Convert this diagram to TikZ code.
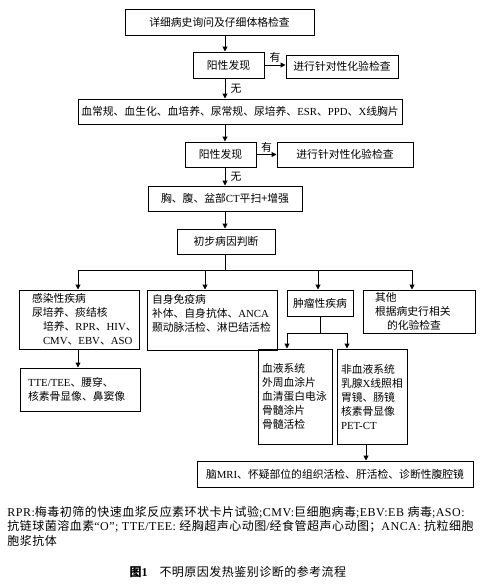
\documentclass[tikz,border=0pt]{standalone}
\usepackage{fontspec}
\setmainfont{Noto Sans CJK SC}
\newfontfamily\latinfont{Liberation Serif}
\newfontfamily\notefont[LetterSpace=4]{Noto Sans CJK SC}
\newfontfamily\notelatin[LetterSpace=4]{Liberation Serif}
\newcommand{\eng}[1]{{\latinfont #1}}
\newcommand{\neng}[1]{{\notelatin #1}}
\usetikzlibrary{arrows.meta}

\begin{document}
\begin{tikzpicture}[x=1pt, y=-1pt, line width=1pt,
	box/.style={draw, rectangle, inner sep=0pt, font=\fontsize{10.8pt}{14pt}\selectfont},
	lbox/.style={box, align=left, text width=#1},
	tag/.style={inner sep=2pt, font=\fontsize{10.8pt}{14pt}\selectfont},
	arr/.style={-{Triangle[length=5pt,width=5pt]}},
	note/.style={anchor=base west, inner sep=0pt, font=\fontsize{12pt}{14pt}\notefont}]
	\useasboundingbox (0,0) rectangle (484,587);
	\coordinate (spine) at (225,0);
	\node[box, minimum width=189pt, minimum height=26pt] (hist) at (219.5,22) {详细病史询问及仔细体格检查};
	\node[box, minimum width=71pt, minimum height=26pt] (pos1) at (228.5,65) {阳性发现};
	\node[box, minimum width=112pt, minimum height=23pt] (test1) at (342,66.5) {进行针对性化验检查};
	\node[box, minimum width=324pt, minimum height=25pt] (routine) at (240,111.5) {血常规、血生化、血培养、尿常规、尿培养、\eng{ESR}、\eng{PPD}、\eng{X}线胸片};
	\node[box, minimum width=71pt, minimum height=25pt] (pos2) at (220.5,154.5) {阳性发现};
	\node[box, minimum width=136pt, minimum height=25pt] (test2) at (345,154.5) {进行针对性化验检查};
	\node[box, minimum width=154pt, minimum height=25pt] (ct) at (225,198.5) {胸、腹、盆部\eng{CT}平扫+增强};
	\node[box, minimum width=98pt, minimum height=25pt] (judge) at (226,241.5) {初步病因判断};
	\node[lbox=94pt, minimum width=120pt, minimum height=59pt] (infect) at (79,319.5) {感染性疾病\\尿培养、痰结核\\\hspace*{11pt}培养、\eng{RPR}、\eng{HIV}、\\\hspace*{11pt}\eng{CMV}、\eng{EBV}、\eng{ASO}};
	\node[lbox=120pt, minimum width=130pt, minimum height=60pt] (immune) at (212,320) {自身免疫病\\补体、自身抗体、\eng{ANCA}\\颞动脉活检、淋巴结活检\\\mbox{}};
	\node[box, minimum width=66pt, minimum height=26pt] (tumor) at (320,303) {肿瘤性疾病};
	\node[lbox=88pt, minimum width=112pt, minimum height=43pt] (other) at (419,311.5) {其他\\根据病史行相关\\\hspace*{12pt}的化验检查};
	\node[lbox=66pt, minimum width=74pt, minimum height=95pt] (blood) at (295,396.5) {血液系统\\外周血涂片\\血清蛋白电泳\\骨髓涂片\\骨髓活检};
	\node[lbox=62pt, minimum width=70pt, minimum height=95pt] (nonblood) at (372,396.5) {非血液系统\\乳腺\eng{X}线照相\\胃镜、肠镜\\核素骨显像\\\eng{PET-CT}};
	\node[lbox=104pt, minimum width=120pt, minimum height=43pt] (tte) at (80,389.5) {\eng{TTE/TEE}、腰穿、\\核素骨显像、鼻窦像};
	\node[box, minimum width=276pt, minimum height=26pt] (final) at (335,474) {脑\eng{MRI}、怀疑部位的组织活检、肝活检、诊断性腹腔镜};
	\draw[arr] (hist.south -| spine) -- (pos1.north -| spine);
	\draw[arr] (pos1.east) -- (pos1.east -| test1.west) node[tag, midway, above] (yes1) {有};
	\draw[arr] (pos1.south -| spine) -- (routine.north -| spine) node[tag, midway, right, xshift=3pt] (no1) {无};
	\draw[arr] (routine.south -| spine) -- (pos2.north -| spine);
	\draw[arr] (pos2.east) -- (pos2.east -| test2.west) node[tag, midway, above] (yes2) {有};
	\draw[arr] (pos2.south -| spine) -- (ct.north -| spine) node[tag, midway, right, xshift=3pt] (no2) {无};
	\draw[arr] (ct.south -| spine) -- (judge.north -| spine);
	\coordinate (b1) at (78,270);
	\coordinate (b2) at (205,270);
	\coordinate (b3) at (318,270);
	\coordinate (b4) at (412,270);
	\draw (judge.south -| spine) -- (spine |- b1);
	\draw (b1) -- (b4);
	\foreach \b/\n in {b1/infect, b2/immune, b3/tumor, b4/other}
		\draw[arr] (\b) -- (\b |- \n.north);
	\coordinate (t1) at (287,333);
	\coordinate (t2) at (347,333);
	\draw (tumor.south) -- (tumor.south |- t1);
	\draw (t1) -- (t2);
	\draw[arr] (t1) -- (t1 |- blood.north);
	\draw[arr] (t2) -- (t2 |- nonblood.north);
	\draw[arr] (infect.south -| b1) -- (tte.north -| b1);
	\draw[arr] ([xshift=-6pt]nonblood.south) -- ([xshift=-6pt]nonblood.south |- final.north);
	\node[note] (note1) at (7,516) {\neng{RPR:}梅毒初筛的快速血浆反应素环状卡片试验\neng{;CMV:}巨细胞病毒\neng{;EBV:EB }病毒\neng{;ASO:}};
	\node[note] (note2) at (7,530.5) {抗链球菌溶血素\neng{“O”; TTE/TEE: }经胸超声心动图\neng{/}经食管超声心动图；\neng{ANCA: }抗粒细胞};
	\node[note] (note3) at (7,545) {胞浆抗体};
	\node[note] (cap) at (129,576) {{\bfseries 图\neng{\bfseries 1}}\hspace{12pt}不明原因发热鉴别诊断的参考流程};
\end{tikzpicture}
\end{document}
